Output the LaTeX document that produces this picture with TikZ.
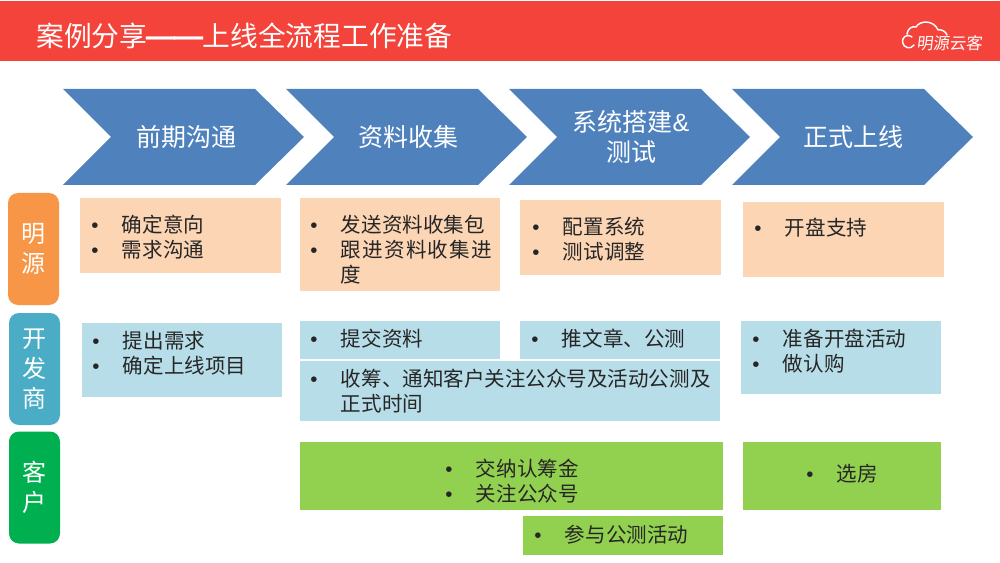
\documentclass[tikz,border=0pt]{standalone}
\usepackage{fontspec}
\setmainfont{Noto Sans CJK SC}
\newfontfamily\latinf{Liberation Sans}
\newcommand{\bl}[1]{\makebox[23pt][l]{{\latinf\char"2022}}#1}
\newcommand{\nb}[1]{\makebox[23pt][l]{}#1}
\newcommand{\ttdash}{\makebox[1em][c]{\scalebox{1.3}[1]{\bfseries —}}}
\definecolor{hdr}{HTML}{F4433A}
\definecolor{chev}{HTML}{4F81BD}
\definecolor{peach}{HTML}{FCD5B5}
\definecolor{lblue}{HTML}{B7DDE8}
\definecolor{lgreen}{HTML}{92D050}
\definecolor{sorange}{HTML}{F79646}
\definecolor{sblue}{HTML}{4BACC6}
\definecolor{sgreen}{HTML}{00B050}
\definecolor{ink}{HTML}{262626}
\tikzset{
  x=0.75pt,y=-0.75pt,
  boxp/.style={inner sep=0pt,outer sep=0pt,anchor=north west,draw=none},
  peachbox/.style={boxp,fill=peach},
  bluebox/.style={boxp,fill=lblue},
  greenbox/.style={boxp,fill=lgreen},
  sidebox/.style={draw=none,rounded corners=7.5pt,inner sep=0pt,minimum width=38.25pt,minimum height=84pt,text=white,align=center,font=\fontsize{18}{22.5}\selectfont},
  chevlabel/.style={text=white,align=center,inner sep=0pt,font=\fontsize{18.75}{22.5}\selectfont},
  body/.style={text=ink,anchor=west,align=left,inner sep=0pt,font=\fontsize{15.4}{18.75}\selectfont},
}
\begin{document}
\begin{tikzpicture}
\useasboundingbox (0,0) rectangle (1000,563);
\fill[white] (0,0) rectangle (1000,563);
% header
\fill[hdr] (0,1) rectangle (1000,61);
\node[text=white,anchor=west,inner sep=0pt,font=\fontsize{20.8}{24}\selectfont] (title) at (36,36) {案例分享\ttdash\ttdash 上线全流程工作准备};
% logo
\draw[white,line width=1.1pt,line cap=round,line join=round]
  (912,37) .. controls (906,33) and (902,38) .. (902.5,42)
  .. controls (903,48) and (911,50) .. (914,45)
  (907,34) .. controls (908,28) and (912,26) .. (916,27)
  .. controls (920,20) and (934,20) .. (938,30)
  .. controls (942,29) and (946,32) .. (947,35);
\node[text=white,anchor=west,inner sep=0pt,xslant=0.12,font=\fontsize{12.3}{14}\selectfont] (logo) at (917,43) {明源云客};
% chevrons
\foreach \x/\n in {63/a,286/b,509/c,732/d}{
  \fill[chev] (\x,89) -- ++(192,0) -- ++(49,48) -- ++(-49,48) -- ++(-192,0) -- ++(48,-48) -- cycle;
}
\node[chevlabel] (c1) at (186,137) {前期沟通};
\node[chevlabel] (c2) at (408,137) {资料收集};
\node[chevlabel] (c3) at (631,137) {系统搭建{\latinf\&}\\测试};
\node[chevlabel] (c4) at (853,137) {正式上线};
% side labels
\node[sidebox,fill=sorange] (s1) at (33.5,249) {明\\源};
\node[sidebox,fill=sblue] (s2) at (34.5,369) {开\\发\\商};
\node[sidebox,fill=sgreen] (s3) at (34.5,487.5) {客\\户};
% boxes
\newcommand{\cell}[6]{\node[#1,minimum width=#4*0.75pt,minimum height=#5*0.75pt] (#6) at (#2,#3) {};}
\cell{peachbox}{80}{198}{201}{75}{p1}
\cell{peachbox}{300}{198}{200}{93}{p2}
\cell{peachbox}{520}{200}{201}{75}{p3}
\cell{peachbox}{743}{202}{201}{75}{p4}
\cell{bluebox}{82}{323}{200}{74}{b1}
\cell{bluebox}{300}{321}{200}{38}{b2}
\cell{bluebox}{520}{321}{200}{38}{b3}
\cell{bluebox}{300}{361}{420}{60}{b4}
\cell{bluebox}{741}{321}{200}{73}{b5}
\cell{greenbox}{300}{442}{423}{68}{g1}
\cell{greenbox}{523}{516}{200}{39}{g2}
\cell{greenbox}{743}{442}{198}{68}{g3}
% texts
\node[body] (tp1) at (91,237.5) {\bl{确定意向}\\\bl{需求沟通}};
\node[body] (tp2) at (310,250) {\bl{发送资料收集包}\\\bl{\addfontfeature{LetterSpace=5.7}跟进资料收集进}\\\nb{度}};
\node[body] (tp3) at (532,239.5) {\bl{配置系统}\\\bl{测试调整}};
\node[body] (tp4) at (754,228) {\bl{开盘支持}};
\node[body] (tb1) at (92,353.5) {\bl{提出需求}\\\bl{确定上线项目}};
\node[body] (tb2) at (310,339) {\bl{提交资料}};
\node[body] (tb3) at (531,339) {\bl{推文章、公测}};
\node[body] (tb4) at (310,391.5) {\bl{收筹、通知客户关注公众号及活动公测及}\\\nb{正式时间}};
\node[body] (tb5) at (752,351.5) {\bl{准备开盘活动}\\\bl{做认购}};
\node[body] (tg1) at (445,481) {\bl{交纳认筹金}\\\bl{关注公众号}};
\node[body] (tg2) at (534,535) {\bl{参与公测活动}};
\node[body] (tg3) at (806,474) {\bl{选房}};
\end{tikzpicture}
\end{document}
